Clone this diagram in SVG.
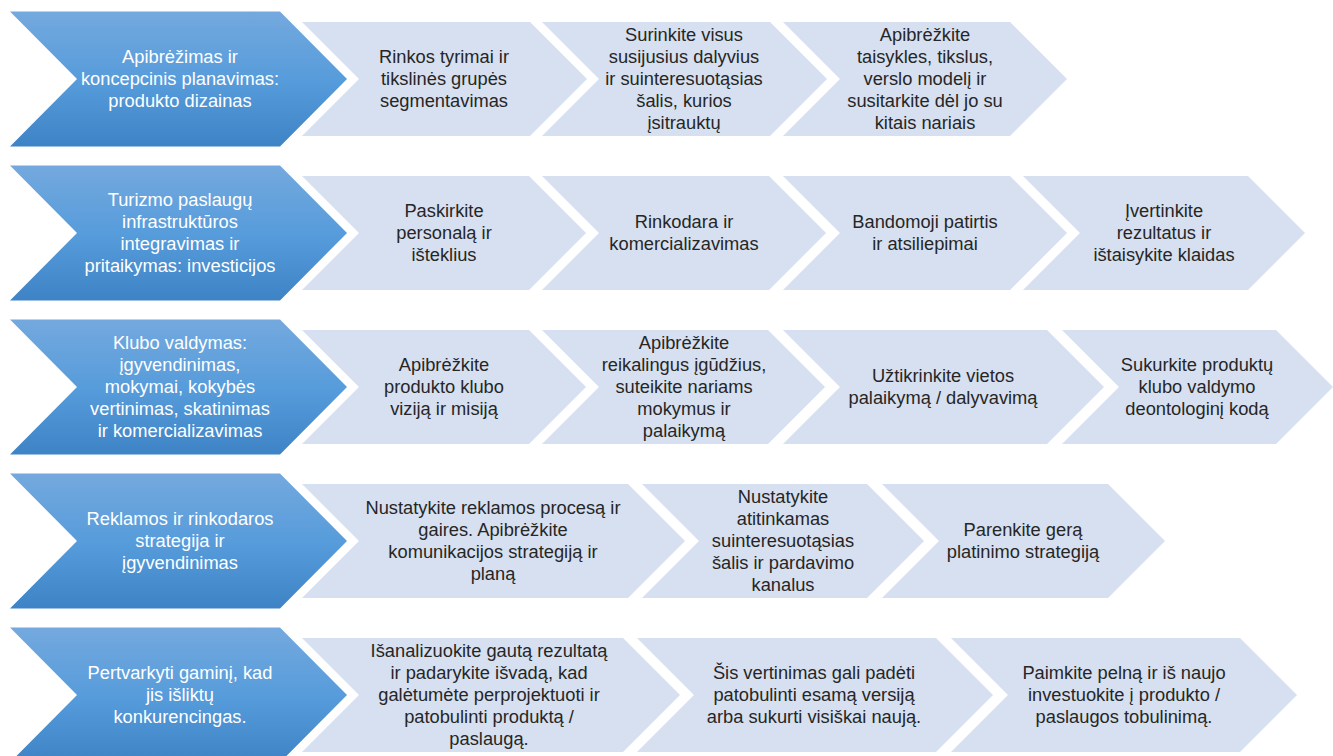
<svg xmlns="http://www.w3.org/2000/svg" width="1333" height="756" viewBox="0 0 1333 756">
  <defs>
    <linearGradient id="blueFill" x1="0" y1="0" x2="0" y2="1">
      <stop offset="0" stop-color="#74a9de"/>
      <stop offset="0.5" stop-color="#579cdb"/>
      <stop offset="1" stop-color="#3e83c5"/>
    </linearGradient>
    <style>
      .head { fill: url(#blueFill); }
      .step { fill: #d6e0f0; }
      text { font-family: "Liberation Sans", Arial, sans-serif; font-size: 18.3px; text-anchor: middle; }
      .head-t { fill: #ffffff; }
      .step-t { fill: #262626; }
    </style>
  </defs>

  <!-- Row 1 -->
  <g id="row1-head">
    <polygon class="head" points="10,11.5 280,11.5 347,79 280,146.5 10,146.5 77,79"/>
    <text class="head-t" x="180" y="63">Apibrėžimas ir</text>
    <text class="head-t" x="180" y="85">koncepcinis planavimas:</text>
    <text class="head-t" x="180" y="107">produkto dizainas</text>
  </g>
  <g id="row1-step1">
    <polygon class="step" points="302,22 530,22 587,79 530,136 302,136 359,79"/>
    <text class="step-t" x="444" y="63">Rinkos tyrimai ir</text>
    <text class="step-t" x="444" y="85">tikslinės grupės</text>
    <text class="step-t" x="444" y="107">segmentavimas</text>
  </g>
  <g id="row1-step2">
    <polygon class="step" points="542,22 770,22 827,79 770,136 542,136 599,79"/>
    <text class="step-t" x="684" y="41">Surinkite visus</text>
    <text class="step-t" x="684" y="63">susijusius dalyvius</text>
    <text class="step-t" x="684" y="85">ir suinteresuotąsias</text>
    <text class="step-t" x="684" y="107">šalis, kurios</text>
    <text class="step-t" x="684" y="129">įsitrauktų</text>
  </g>
  <g id="row1-step3">
    <polygon class="step" points="783,22 1010,22 1067,79 1010,136 783,136 840,79"/>
    <text class="step-t" x="925" y="41">Apibrėžkite</text>
    <text class="step-t" x="925" y="63">taisykles, tikslus,</text>
    <text class="step-t" x="925" y="85">verslo modelį ir</text>
    <text class="step-t" x="925" y="107">susitarkite dėl jo su</text>
    <text class="step-t" x="925" y="129">kitais nariais</text>
  </g>

  <!-- Row 2 -->
  <g id="row2-head">
    <polygon class="head" points="10,165.5 280,165.5 347,233 280,300.5 10,300.5 77,233"/>
    <text class="head-t" x="180" y="206">Turizmo paslaugų</text>
    <text class="head-t" x="180" y="228">infrastruktūros</text>
    <text class="head-t" x="180" y="250">integravimas ir</text>
    <text class="head-t" x="180" y="272">pritaikymas: investicijos</text>
  </g>
  <g id="row2-step1">
    <polygon class="step" points="302,176 529,176 586,233 529,290 302,290 359,233"/>
    <text class="step-t" x="444" y="217">Paskirkite</text>
    <text class="step-t" x="444" y="239">personalą ir</text>
    <text class="step-t" x="444" y="261">išteklius</text>
  </g>
  <g id="row2-step2">
    <polygon class="step" points="542,176 769,176 826,233 769,290 542,290 599,233"/>
    <text class="step-t" x="684" y="228">Rinkodara ir</text>
    <text class="step-t" x="684" y="250">komercializavimas</text>
  </g>
  <g id="row2-step3">
    <polygon class="step" points="783,176 1010,176 1067,233 1010,290 783,290 840,233"/>
    <text class="step-t" x="925" y="228">Bandomoji patirtis</text>
    <text class="step-t" x="925" y="250">ir atsiliepimai</text>
  </g>
  <g id="row2-step4">
    <polygon class="step" points="1023,176 1248,176 1305,233 1248,290 1023,290 1080,233"/>
    <text class="step-t" x="1164" y="217">Įvertinkite</text>
    <text class="step-t" x="1164" y="239">rezultatus ir</text>
    <text class="step-t" x="1164" y="261">ištaisykite klaidas</text>
  </g>

  <!-- Row 3 -->
  <g id="row3-head">
    <polygon class="head" points="10,319.5 280,319.5 347,387 280,454.5 10,454.5 77,387"/>
    <text class="head-t" x="180" y="349">Klubo valdymas:</text>
    <text class="head-t" x="180" y="371">įgyvendinimas,</text>
    <text class="head-t" x="180" y="393">mokymai, kokybės</text>
    <text class="head-t" x="180" y="415">vertinimas, skatinimas</text>
    <text class="head-t" x="180" y="437">ir komercializavimas</text>
  </g>
  <g id="row3-step1">
    <polygon class="step" points="302,330 529,330 586,387 529,444 302,444 359,387"/>
    <text class="step-t" x="444" y="371">Apibrėžkite</text>
    <text class="step-t" x="444" y="393">produkto klubo</text>
    <text class="step-t" x="444" y="415">viziją ir misiją</text>
  </g>
  <g id="row3-step2">
    <polygon class="step" points="542,330 768,330 825,387 768,444 542,444 599,387"/>
    <text class="step-t" x="684" y="349">Apibrėžkite</text>
    <text class="step-t" x="684" y="371">reikalingus įgūdžius,</text>
    <text class="step-t" x="684" y="393">suteikite nariams</text>
    <text class="step-t" x="684" y="415">mokymus ir</text>
    <text class="step-t" x="684" y="437">palaikymą</text>
  </g>
  <g id="row3-step3">
    <polygon class="step" points="783,330 1047,330 1104,387 1047,444 783,444 840,387"/>
    <text class="step-t" x="943" y="382">Užtikrinkite vietos</text>
    <text class="step-t" x="943" y="404">palaikymą / dalyvavimą</text>
  </g>
  <g id="row3-step4">
    <polygon class="step" points="1062,330 1276,330 1333,387 1276,444 1062,444 1119,387"/>
    <text class="step-t" x="1197" y="371">Sukurkite produktų</text>
    <text class="step-t" x="1197" y="393">klubo valdymo</text>
    <text class="step-t" x="1197" y="415">deontologinį kodą</text>
  </g>

  <!-- Row 4 -->
  <g id="row4-head">
    <polygon class="head" points="10,473.5 280,473.5 347,541 280,608.5 10,608.5 77,541"/>
    <text class="head-t" x="180" y="525">Reklamos ir rinkodaros</text>
    <text class="head-t" x="180" y="547">strategija ir</text>
    <text class="head-t" x="180" y="569">įgyvendinimas</text>
  </g>
  <g id="row4-step1">
    <polygon class="step" points="302,484 628,484 685,541 628,598 302,598 359,541"/>
    <text class="step-t" x="493" y="514">Nustatykite reklamos procesą ir</text>
    <text class="step-t" x="493" y="536">gaires. Apibrėžkite</text>
    <text class="step-t" x="493" y="558">komunikacijos strategiją ir</text>
    <text class="step-t" x="493" y="580">planą</text>
  </g>
  <g id="row4-step2">
    <polygon class="step" points="642,484 867,484 924,541 867,598 642,598 699,541"/>
    <text class="step-t" x="783" y="503">Nustatykite</text>
    <text class="step-t" x="783" y="525">atitinkamas</text>
    <text class="step-t" x="783" y="547">suinteresuotąsias</text>
    <text class="step-t" x="783" y="569">šalis ir pardavimo</text>
    <text class="step-t" x="783" y="591">kanalus</text>
  </g>
  <g id="row4-step3">
    <polygon class="step" points="882,484 1108,484 1165,541 1108,598 882,598 939,541"/>
    <text class="step-t" x="1023" y="536">Parenkite gerą</text>
    <text class="step-t" x="1023" y="558">platinimo strategiją</text>
  </g>

  <!-- Row 5 -->
  <g id="row5-head">
    <polygon class="head" points="10,627.5 280,627.5 347,695 280,762.5 10,762.5 77,695"/>
    <text class="head-t" x="180" y="679">Pertvarkyti gaminį, kad</text>
    <text class="head-t" x="180" y="701">jis išliktų</text>
    <text class="head-t" x="180" y="723">konkurencingas.</text>
  </g>
  <g id="row5-step1">
    <polygon class="step" points="302,638 623,638 680,695 623,752 302,752 359,695"/>
    <text class="step-t" x="489" y="657">Išanalizuokite gautą rezultatą</text>
    <text class="step-t" x="489" y="679">ir padarykite išvadą, kad</text>
    <text class="step-t" x="489" y="701">galėtumėte perprojektuoti ir</text>
    <text class="step-t" x="489" y="723">patobulinti produktą /</text>
    <text class="step-t" x="489" y="745">paslaugą.</text>
  </g>
  <g id="row5-step2">
    <polygon class="step" points="637,638 936,638 993,695 936,752 637,752 694,695"/>
    <text class="step-t" x="814" y="679">Šis vertinimas gali padėti</text>
    <text class="step-t" x="814" y="701">patobulinti esamą versiją</text>
    <text class="step-t" x="814" y="723">arba sukurti visiškai naują.</text>
  </g>
  <g id="row5-step3">
    <polygon class="step" points="951,638 1240,638 1297,695 1240,752 951,752 1008,695"/>
    <text class="step-t" x="1124" y="679">Paimkite pelną ir iš naujo</text>
    <text class="step-t" x="1124" y="701">investuokite į produkto /</text>
    <text class="step-t" x="1124" y="723">paslaugos tobulinimą.</text>
  </g>

  <!-- the chevron chain has no separate connector lines -->
  <g id="connectors"/>
</svg>
